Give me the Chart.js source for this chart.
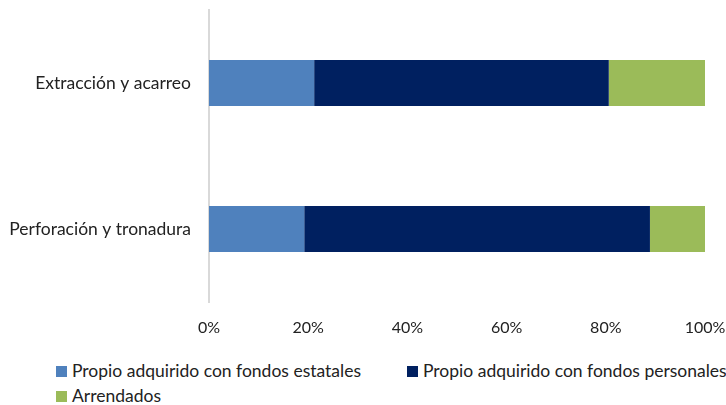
<!DOCTYPE html>
<html>
<head>
<meta charset="utf-8">
<script src="https://cdn.jsdelivr.net/npm/chart.js@4"></script>
<style>
  html, body { margin: 0; padding: 0; background: #fff; }
  body { width: 726px; height: 405px; overflow: hidden; font-family: Lato, sans-serif; }
  #wrap { position: relative; width: 726px; height: 345px; }
  #legend { position: relative; width: 726px; height: 60px; font-size: 17.5px; color: #222; }
  .item { position: absolute; display: flex; align-items: center; white-space: nowrap; line-height: 20px; }
  .box { width: 11px; height: 11px; margin-right: 5px; }
</style>
</head>
<body>
<div id="wrap"><canvas id="chart" width="726" height="345"></canvas></div>
<div id="legend"></div>
<script>
// Datos
var categories = ['Extracción y acarreo', 'Perforación y tronadura'];
var estatales = [21.2, 19.2];
var personales = [59.4, 69.7];
var arrendados = [19.4, 11.1];
var seriesNames = ['Propio adquirido con fondos estatales', 'Propio adquirido con fondos personales', 'Arrendados'];
var seriesColors = ['#4F81BD', '#002060', '#9BBB59'];
var tickValues = [0, 20, 40, 60, 80, 100];

var FONT = 'Lato, sans-serif';
var seriesData = [estatales, personales, arrendados];

var ctx = document.getElementById('chart').getContext('2d');
var chart = new Chart(ctx, {
    type: 'bar',
    data: {
        labels: categories,
        datasets: seriesNames.map(function(name, i) {
            return {
                label: name,
                data: seriesData[i],
                backgroundColor: seriesColors[i],
                borderWidth: 0,
                categoryPercentage: 1,
                barPercentage: 0.315
            };
        })
    },
    options: {
        indexAxis: 'y',
        responsive: false,
        animation: false,
        devicePixelRatio: 1,
        layout: { padding: { top: 10, right: 21, bottom: 0, left: 0 } },
        plugins: {
            legend: { display: false },
            tooltip: { enabled: false }
        },
        scales: {
            x: {
                stacked: true,
                min: 0,
                max: 100,
                afterBuildTicks: function(scale) {
                    scale.ticks = tickValues.map(function(v) { return { value: v }; });
                },
                ticks: {
                    color: '#222',
                    font: { family: FONT, size: 16 },
                    padding: 16,
                    maxRotation: 0,
                    callback: function(v) { return v + '%'; }
                },
                grid: { display: false, drawTicks: false },
                border: { display: false },
                afterFit: function(scale) {
                    scale.height = 43;
                    scale.paddingLeft = 0;
                    scale.paddingRight = 0;
                }
            },
            y: {
                stacked: true,
                ticks: {
                    color: '#222',
                    font: { family: FONT, size: 17.5 },
                    padding: 18
                },
                grid: { display: false, drawTicks: false },
                border: { display: true, color: '#d9d9d9', width: 2 },
                afterFit: function(scale) {
                    scale.width = 209;
                    scale.paddingTop = 0;
                    scale.paddingBottom = 0;
                }
            }
        }
    }
});

// Leyenda
var legend = document.getElementById('legend');
var legendPos = [[56, 26], [407, 26], [56, 51]];
seriesNames.forEach(function(name, i) {
    var item = document.createElement('div');
    item.className = 'item';
    item.style.left = legendPos[i][0] + 'px';
    item.style.top = (legendPos[i][1] - 10) + 'px';
    item.innerHTML = '<span class="box" style="background:' + seriesColors[i] + '"></span><span>' + name + '</span>';
    legend.appendChild(item);
});
</script>
</body>
</html>
